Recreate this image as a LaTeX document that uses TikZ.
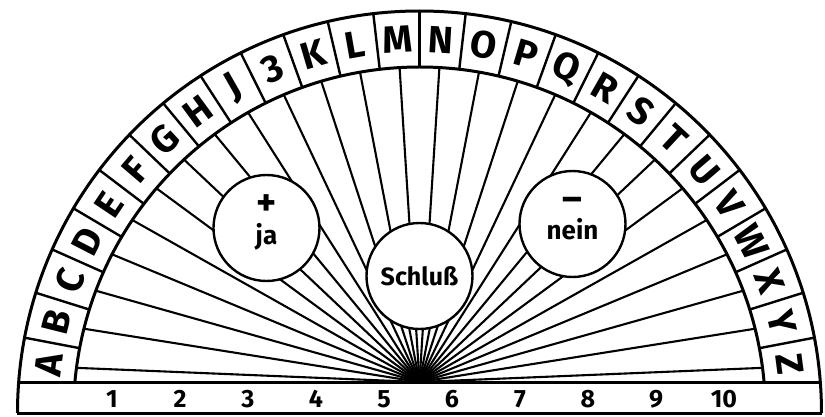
\documentclass[tikz,border=0pt]{standalone}
\usepackage{fontspec}
\setmainfont{Fira Sans}
\usetikzlibrary{calc}
\tikzset{
  rim/.style    = {line width=3pt},
  sep/.style    = {line width=2.4pt},
  ray/.style    = {line width=2.1pt},
  letter/.style = {font=\fontsize{38}{38}\selectfont\bfseries, inner sep=0pt},
  digit/.style  = {font=\fontsize{25}{25}\selectfont\bfseries, inner sep=0pt},
  disc/.style   = {circle, draw, line width=2.4pt, fill=white, minimum size=106pt,
                   inner sep=0pt},
  word/.style   = {font=\fontsize{26}{26}\selectfont\bfseries, inner sep=0pt},
  sign/.style   = {font=\fontsize{38}{38}\selectfont\bfseries, inner sep=0pt,
                   text height=0.45em, text depth=0pt},
}
\begin{document}
\begin{tikzpicture}[x=1pt,y=1pt]
  \useasboundingbox (-419.5,-3) rectangle (405.5,413);
  \coordinate (apex) at (0,31);
  % one pointer per letter
  \foreach \k in {0,...,25}
    \draw[ray] (apex) -- ({175.8-6.6*(\k+0.5)}:346);
  \fill (apex) ++(-16,0) arc[start angle=180, end angle=0, x radius=16, y radius=6] -- cycle;
  % letter ring and number strip
  \draw[rim] (402,0) arc[start angle=0, end angle=180, radius=402];
  \draw[rim] (5.14:346) arc[start angle=5.14, end angle=174.86, radius=346];
  \draw[rim] (-402,0) -- (402,0);
  \draw[rim] (-400.8,31) -- (400.8,31);
  \foreach \j in {1,...,25}
    \draw[sep] ({4.2+6.6*\j}:346) -- ({4.2+6.6*\j}:402);
  \foreach \l [count=\k from 0] in {A,B,C,D,E,F,G,H,J,3,K,L,M,N,O,P,Q,R,S,T,U,V,W,X,Y,Z}
    \node[letter, rotate={85.8-6.6*(\k+0.5)}] (c\l) at ({175.8-6.6*(\k+0.5)}:374) {\l};
  \foreach \n in {1,...,10}
    \node[digit] (n\n) at ({-307.5+68*(\n-1)},14) {\n};
  % the three answer fields
  \node[disc] (schluss) at (0,137) {};
  \node[word, font=\fontsize{25}{25}\selectfont\bfseries] (schlusstext) at (schluss) {Schluß};
  \node[disc] (ja) at (-153,185) {};
  \node[sign, anchor=base] (plus) at ($(ja)+(0,13)$) {+};
  \node[word] (jatext) at ($(ja)+(0,-9)$) {ja};
  \node[disc] (nein) at (153,189) {};
  \node[sign, anchor=base] (minus) at ($(nein)+(0,13)$) {–};
  \node[word] (neintext) at ($(nein)+(0,-5)$) {nein};
\end{tikzpicture}
\end{document}
